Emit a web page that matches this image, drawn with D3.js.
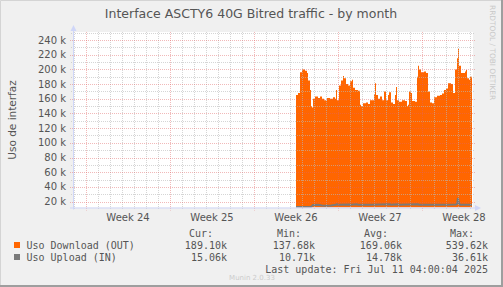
<!DOCTYPE html>
<html>
<head>
<meta charset="utf-8">
<script src="https://cdn.jsdelivr.net/npm/d3@7"></script>
<style>
  body { margin: 0; background: #f0f0f0; }
  svg { display: block; }
  text { font-family: "DejaVu Sans", sans-serif; fill: #555; }
  .mono { font-family: "DejaVu Sans Mono", monospace; }
</style>
</head>
<body>
<div id="chart"></div>
<script>
// Hours after 2025-06-26 12:00 UTC (start of collected data)
const dlHours = [0,4,8,12,18,22,24,28,30,32,34,38,44,48,52,56,60,62,68,74,78,80,82,86,90,94,96,100,104,108,
  112,114,118,124,128,130,134,140,144,148,152,156,158,160,164,168,172,176,180,184,186,190,194,198,200,202,206,
  212,218,222,224,226,230,232,238,242,244,246,250,256,260,264,268,272,276,282,288,292,296,300,304,310,314,318,
  322,324,326,330,334,338,340,342,346,348,352];
// Download (OUT), in k
const dlValues = [165,168,196,200,198,195,185,172,150,148,160,163,161,163,160,158,157,161,160,162,160,172,158,178,
  185,191,188,180,178,184,186,175,172,171,152,150,154,155,153,158,158,166,181,165,160,163,158,170,158,165,169,155,
  153,165,176,158,156,158,157,150,152,170,168,157,156,190,205,200,196,197,195,170,155,154,162,164,165,167,172,174,
  181,180,168,200,215,228,205,195,195,197,199,188,186,190,189];
const ulHours = [0,30,34,44,52,60,70,80,82,84,108,110,122,124,150,188,190,204,206,244,246,300,320,322,324,326,328,352];
// Upload (IN), in k
const ulValues = [12.8,12.8,15.5,15.8,14.8,14.4,14.6,15.6,16.4,15.6,16.1,15.6,16.4,15.6,15.8,16.4,15.6,16.2,15.6,
  16.4,15.8,15.6,15.9,17.0,25.0,17.5,15.8,15.6];

const yTicks = [20,40,60,80,100,120,140,160,180,200,220,240];
const yMinor = [30,50,70,90,110,130,150,170,190,210,230,250];

const legendNames = ["Uso Download (OUT)", "Uso Upload (IN)"];
const legendColors = ["#ff6600", "#7a7a7a"];
const legendCur = ["189.10k", "15.06k"];
const legendMin = ["137.68k", "10.71k"];
const legendAvg = ["169.06k", "14.78k"];
const legendMax = ["539.62k", "36.61k"];

const W = 503, H = 287;
const plot = { left: 73, right: 473, top: 32, bottom: 207.5 };

const start = Date.UTC(2025, 5, 26, 12);
const toDate = h => new Date(start + h * 3600e3);

const svg = d3.select("#chart").append("svg")
  .attr("width", W).attr("height", H);

svg.append("rect").attr("width", W).attr("height", H).attr("fill", "#f0f0f0");

// frame
svg.append("path").attr("d", `M0.5,${H} V0.5 H${W}`).attr("fill", "none").attr("stroke", "#d4d4d4");
svg.append("path").attr("d", `M0,${H - 1} H${W - 1} V0`).attr("fill", "none").attr("stroke", "#9e9e9e").attr("stroke-width", 2);

// scales
const x = d3.scaleUtc()
  .domain([new Date(Date.UTC(2025, 5, 7, 22)), new Date(Date.UTC(2025, 6, 11, 6))])
  .range([plot.left, plot.right]);
const y = d3.scaleLinear()
  .domain([240 - (plot.bottom - 40) / 0.7345, 240 + 8 / 0.7345])
  .range([plot.bottom, plot.top]);

// canvas
svg.append("rect")
  .attr("x", plot.left).attr("y", plot.top)
  .attr("width", plot.right - plot.left).attr("height", plot.bottom - plot.top)
  .attr("fill", "#ffffff");

svg.append("clipPath").attr("id", "clip").append("rect")
  .attr("x", plot.left).attr("y", plot.top)
  .attr("width", plot.right - plot.left).attr("height", plot.bottom - plot.top);

const dl = dlHours.map((h, i) => ({ t: toDate(h), v: dlValues[i] }));
const ul = ulHours.map((h, i) => ({ t: toDate(h), v: ulValues[i] }));

const g = svg.append("g").attr("clip-path", "url(#clip)");

g.append("path")
  .datum(dl)
  .attr("fill", "#ff6600")
  .attr("d", d3.area().curve(d3.curveStepAfter)
    .x(d => x(d.t)).y0(plot.bottom).y1(d => y(d.v)));

g.append("path")
  .datum(ul)
  .attr("fill", "none")
  .attr("stroke", "#7a7a7a")
  .attr("stroke-width", 2)
  .attr("d", d3.line().curve(d3.curveLinear).x(d => x(d.t)).y(d => y(d.v)));

// grid, drawn over the data like rrdtool does
const minorCol = "rgba(185,185,185,0.6)";
const majorCol = "rgba(225,100,100,0.45)";
const grid = svg.append("g").attr("fill", "none").attr("stroke-dasharray", "1,1");

const days = d3.utcDay.range(x.domain()[0], x.domain()[1]);
const weeks = d3.utcMonday.range(x.domain()[0], x.domain()[1]);

grid.selectAll(".vmin").data(days.filter(d => d.getUTCDay() !== 1)).join("line")
  .attr("x1", d => Math.round(x(d)) + 0.5).attr("x2", d => Math.round(x(d)) + 0.5)
  .attr("y1", plot.top).attr("y2", plot.bottom + 2)
  .attr("stroke", minorCol);
grid.selectAll(".hmin").data(yMinor).join("line")
  .attr("x1", plot.left - 2).attr("x2", plot.right + 2)
  .attr("y1", d => Math.round(y(d)) + 0.5).attr("y2", d => Math.round(y(d)) + 0.5)
  .attr("stroke", minorCol);
grid.selectAll(".vmaj").data(weeks).join("line")
  .attr("x1", d => Math.round(x(d)) + 0.5).attr("x2", d => Math.round(x(d)) + 0.5)
  .attr("y1", plot.top).attr("y2", plot.bottom + 3)
  .attr("stroke", majorCol);
grid.selectAll(".hmaj").data(yTicks).join("line")
  .attr("x1", plot.left - 3).attr("x2", plot.right + 3)
  .attr("y1", d => Math.round(y(d)) + 0.5).attr("y2", d => Math.round(y(d)) + 0.5)
  .attr("stroke", majorCol);

// axes with arrows
const axisCol = "#cfd6f8";
svg.append("line").attr("x1", plot.left + 0.5).attr("x2", plot.left + 0.5)
  .attr("y1", plot.bottom + 2).attr("y2", plot.top - 4).attr("stroke", axisCol);
svg.append("line").attr("x1", plot.left - 3).attr("x2", plot.right + 4)
  .attr("y1", plot.bottom + 0.5).attr("y2", plot.bottom + 0.5).attr("stroke", axisCol);
svg.append("path").attr("fill", axisCol)
  .attr("d", `M${plot.left + 0.5},${plot.top - 7} l-3,6 h6 z`);
svg.append("path").attr("fill", axisCol)
  .attr("d", `M${plot.right + 8},${plot.bottom + 0.5} l-6,-3 v6 z`);

// y tick labels
svg.selectAll(".ylab").data(yTicks).join("text")
  .attr("x", 66).attr("y", d => y(d) + 3.5)
  .attr("text-anchor", "end").attr("font-size", 10)
  .text(d => d + " k");

// x tick labels, centred on each week
const weekLabel = d3.utcFormat("Week %V");
svg.selectAll(".xlab").data(weeks).join("text")
  .attr("x", d => x(new Date(+d + 3.5 * 864e5)))
  .attr("y", 221).attr("text-anchor", "middle").attr("font-size", 10)
  .text(d => weekLabel(d));

// titles
svg.append("text").attr("x", 251).attr("y", 18).attr("text-anchor", "middle")
  .attr("font-size", 12.5).attr("fill", "#444")
  .text("Interface ASCTY6 40G Bitred traffic - by month");
svg.append("text").attr("transform", "translate(16,120) rotate(-90)")
  .attr("text-anchor", "middle").attr("font-size", 10.5)
  .text("Uso de interfaz");
svg.append("text").attr("transform", "translate(490,5) rotate(90)")
  .attr("font-size", 7.4).style("fill", "#c8c8c8")
  .text("RRDTOOL / TOBI OETIKER");

// legend
const lg = svg.append("g").attr("font-size", 10);
const colsX = [227, 315, 402, 488];
["Cur:", "Min:", "Avg:", "Max:"].forEach((h, i) => {
  lg.append("text").attr("class", "mono").attr("x", colsX[i] - 14).attr("y", 237)
    .attr("text-anchor", "end").text(h);
});
legendNames.forEach((name, i) => {
  const yy = 249 + i * 12;
  lg.append("rect").attr("x", 14).attr("y", yy - 7).attr("width", 6).attr("height", 6)
    .attr("fill", legendColors[i]);
  lg.append("text").attr("class", "mono").attr("x", 26.5).attr("y", yy).text(name);
  [legendCur, legendMin, legendAvg, legendMax].forEach((col, j) => {
    lg.append("text").attr("class", "mono").attr("x", colsX[j]).attr("y", yy)
      .attr("text-anchor", "end").text(col[i]);
  });
});
lg.append("text").attr("class", "mono").attr("x", 488).attr("y", 273)
  .attr("text-anchor", "end").text("Last update: Fri Jul 11 04:00:04 2025");

svg.append("text").attr("x", 252).attr("y", 280).attr("text-anchor", "middle")
  .attr("font-size", 7).style("fill", "#cccccc").text("Munin 2.0.33");
</script>
</body>
</html>
